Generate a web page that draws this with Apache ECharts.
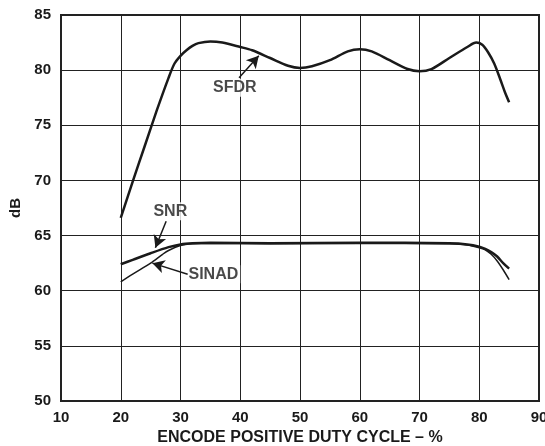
<!DOCTYPE html>
<html><head><meta charset="utf-8">
<script src="https://cdn.jsdelivr.net/npm/echarts@6/dist/echarts.min.js"></script>
<style>html,body{margin:0;padding:0;background:#fff}#c{width:545px;height:446px}</style>
</head><body><div id="c"></div>
<script>
const xTicks = [10,20,30,40,50,60,70,80,90];
const yTicks = [50,55,60,65,70,75,80,85];
const sfdr = [[20,66.6],[22,69.9],[24,73.1],[26,76.3],[28,79.3],[29,80.6],[30,81.3],[31,81.8],[32,82.2],[33,82.45],[35,82.6],[37,82.5],[40,82.1],[42,81.8],[45,81.1],[48,80.4],[50,80.2],[52,80.35],[55,80.9],[58,81.7],[60,81.9],[62,81.7],[65,80.9],[68,80.1],[70,79.9],[72,80.1],[75,81.1],[78,82.1],[79.5,82.5],[80.5,82.3],[81.5,81.6],[82.5,80.6],[83.5,79.2],[84.3,78.0],[85,77.1]];
const snr = [[20,62.4],[22,62.8],[25,63.4],[28,63.95],[30,64.2],[32,64.3],[35,64.35],[45,64.3],[60,64.35],[75,64.3],[78,64.2],[80,64.0],[81,63.8],[82,63.5],[83,63.1],[84,62.5],[85,62.0]];
const sinad = [[20,60.8],[22,61.5],[25,62.5],[27,63.3],[28,63.65],[30,64.1],[32,64.25],[35,64.3],[45,64.25],[60,64.3],[75,64.25],[78,64.15],[80,63.9],[81,63.7],[82,63.3],[83,62.7],[84,61.9],[85,61.0]];
const labels = [{name:'SFDR', x:39.1, y:78.4},{name:'SNR', x:28.3, y:67.2},{name:'SINAD', x:35.5, y:61.5}];
const arrows = [[[39.8,79.3],[43.1,81.3]],[[27.6,66.3],[25.8,63.9]],[[31.2,61.5],[25.3,62.5]]];

const FONT = 'Liberation Sans, Arial, sans-serif';
const chart = echarts.init(document.getElementById('c'));
chart.setOption({
  animation:false,
  grid:{left:61,right:6,top:15,bottom:45,show:true,borderColor:'#222',borderWidth:2,outerBoundsMode:'none',containLabel:false},
  xAxis:{type:'value',min:xTicks[0],max:xTicks[xTicks.length-1],interval:10,
    name:'ENCODE POSITIVE DUTY CYCLE – %',nameLocation:'middle',nameGap:29,
    nameTextStyle:{fontFamily:FONT,fontWeight:'bold',fontSize:16,color:'#1a1a1a'},
    axisLine:{lineStyle:{color:'#222',width:2}},axisTick:{show:false},
    axisLabel:{fontFamily:FONT,fontWeight:'bold',fontSize:15,color:'#1a1a1a',margin:9},
    splitLine:{lineStyle:{color:'#222',width:1}}},
  yAxis:{type:'value',min:yTicks[0],max:yTicks[yTicks.length-1],interval:5,
    name:'dB',nameLocation:'middle',nameGap:33,
    nameTextStyle:{fontFamily:FONT,fontWeight:'bold',fontSize:15,color:'#1a1a1a'},
    axisLine:{show:true,lineStyle:{color:'#222',width:2}},axisTick:{show:false},
    axisLabel:{fontFamily:FONT,fontWeight:'bold',fontSize:15,color:'#1a1a1a',margin:10},
    splitLine:{lineStyle:{color:'#222',width:1}}},
  series:[
    {type:'line',data:sfdr,smooth:0.3,showSymbol:false,lineStyle:{color:'#1a1a1a',width:2.5},
      markLine:{silent:true,symbol:['none','arrow'],symbolSize:[10,12],label:{show:false},
        lineStyle:{color:'#1a1a1a',width:1.5,type:'solid'},
        data:arrows.map(a=>[{coord:a[0]},{coord:a[1]}])}},
    {type:'line',data:snr,smooth:0.3,showSymbol:false,lineStyle:{color:'#1a1a1a',width:2.5}},
    {type:'line',data:sinad,smooth:0.3,showSymbol:false,lineStyle:{color:'#1a1a1a',width:1.5}},
    {type:'scatter',symbolSize:0,data:labels.map(l=>({value:[l.x,l.y],name:l.name})),
      label:{show:true,position:'inside',formatter:p=>p.name,fontFamily:FONT,fontWeight:'bold',fontSize:16,color:'#1a1a1a',
        backgroundColor:'#fff',padding:[1,2]}}
  ]
});
</script></body></html>
